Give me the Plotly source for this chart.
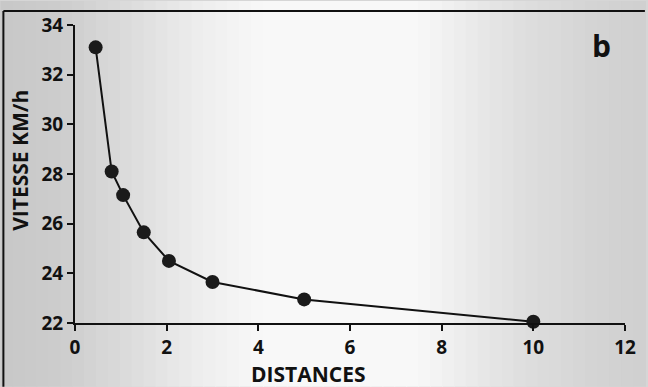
import plotly.graph_objects as go

distances = [0.45, 0.8, 1.05, 1.5, 2.05, 3.0, 5.0, 10.0]
vitesse = [33.1, 28.1, 27.15, 25.65, 24.5, 23.65, 22.95, 22.05]
x_ticks = [0, 2, 4, 6, 8, 10, 12]
y_ticks = [22, 24, 26, 28, 30, 32, 34]

FONT = "Open Sans"

fig = go.Figure()
fig.add_trace(go.Scatter(
    x=distances, y=vitesse, mode="lines+markers",
    line=dict(color="#111111", width=2),
    marker=dict(color="#1a1a1a", size=14),
    cliponaxis=False, showlegend=False,
))

W, H = 648, 387
L, R, T, B = 75, 20, 24, 64
PW, PH = W - L - R, H - T - B


def px(xp):
    return (xp - L) / PW


def py(yp):
    return 1 - (yp - T) / PH


# scanned-paper style background: smooth horizontal tone profile
profile = [(0, 200), (60, 205), (130, 220), (200, 238), (260, 248), (420, 248),
           (470, 235), (530, 222), (600, 212), (648, 208)]
shapes = []
step = 12
for xs in range(0, W, step):
    xm = xs + step / 2
    for (a, va), (b, vb) in zip(profile[:-1], profile[1:]):
        if a <= xm <= b:
            v = int(va + (vb - va) * (xm - a) / (b - a))
            break
    c = f"rgb({v},{v},{v})"
    shapes.append(dict(type="rect", xref="paper", yref="paper", x0=px(xs), x1=px(xs + step + 1),
                       y0=py(H), y1=py(0), fillcolor=c, line=dict(width=0), layer="below"))
fig.update_layout(shapes=shapes)

fig.update_layout(
    width=W, height=H,
    margin=dict(l=L, r=R, t=T, b=B),
    paper_bgcolor="#d6d6d6",
    plot_bgcolor="rgba(0,0,0,0)",
    font=dict(family=FONT, color="#111111"),
    xaxis=dict(range=[0, 12], tickvals=x_ticks, showgrid=False, zeroline=False,
               showline=True, linecolor="#111111", linewidth=2,
               ticks="outside", ticklen=6, tickwidth=2, tickcolor="#111111",
               tickfont=dict(size=19, family=FONT, weight="bold")),
    yaxis=dict(range=[22, 34], tickvals=y_ticks, showgrid=False, zeroline=False,
               showline=True, linecolor="#111111", linewidth=2,
               ticks="outside", ticklen=6, tickwidth=2, tickcolor="#111111",
               tickfont=dict(size=19, family=FONT, weight="bold")),
)

# outer frame lines (top and left)
fig.add_shape(type="line", xref="paper", yref="paper",
              x0=px(3), x1=px(W), y0=py(10), y1=py(10),
              line=dict(color="#111111", width=2))
fig.add_shape(type="line", xref="paper", yref="paper",
              x0=px(3), x1=px(3), y0=py(H), y1=py(10),
              line=dict(color="#111111", width=2))

fig.add_annotation(text="DISTANCES", xref="paper", yref="paper",
                   x=px(310), y=py(374),
                   showarrow=False, font=dict(size=21, family=FONT, weight="bold"),
                   xanchor="center", yanchor="middle")
fig.add_annotation(text="VITESSE KM/h", xref="paper", yref="paper",
                   x=px(19), y=py(160),
                   textangle=-90, showarrow=False,
                   font=dict(size=21, family=FONT, weight="bold"),
                   xanchor="center", yanchor="middle")
fig.add_annotation(text="b", xref="paper", yref="paper",
                   x=px(604), y=py(45),
                   showarrow=False, font=dict(size=30, family=FONT, weight="bold"),
                   xanchor="center", yanchor="middle")

fig.write_html("out.html", config={"displayModeBar": False},
               post_script="document.body.style.margin='0';document.body.style.padding='0';document.body.style.overflow='hidden';")
